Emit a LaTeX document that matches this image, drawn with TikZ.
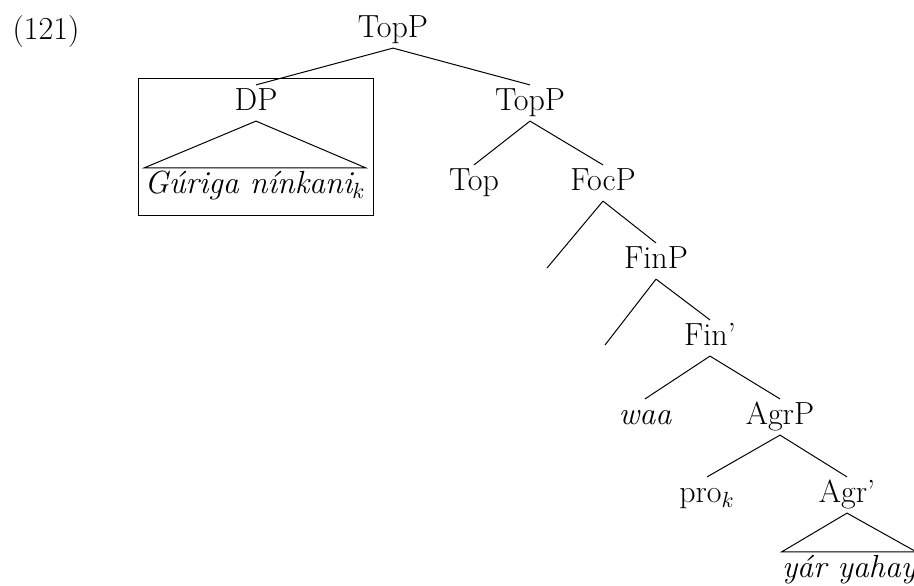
\documentclass[tikz,border=0pt]{standalone}
\usetikzlibrary{positioning}
\begin{document}
\begin{tikzpicture}[x=0.5pt,y=-0.5pt,
  lbl/.style={font=\fontsize{16}{19}\selectfont, text height=11pt, text depth=3.3pt, inner ysep=1.7pt, inner xsep=2pt},
  leaf/.style={lbl, font=\fontsize{16}{19}\selectfont\itshape, inner xsep=0pt},
  branch/.style={line width=0.5pt},
  roof/.style={line width=0.5pt, line join=miter}]
\useasboundingbox (0,0) rectangle (914,585);
\node[lbl] (ex) at (46,32) {(121)};
\node[lbl] (topp) at (393,30) {TopP};
\node[lbl] (dp) at (256,103) {DP};
\node[leaf] (gur) at (255,186) {Gúriga nínkani$_k$};
\node[lbl] (topp2) at (530,103) {TopP};
\node[lbl] (top) at (474,183) {Top};
\node[lbl] (focp) at (603,183) {FocP};
\coordinate (focl) at (547,268);
\node[lbl] (finp) at (656,261) {FinP};
\coordinate (finl) at (605,345);
\node[lbl] (fin) at (710,338) {Fin’};
\node[lbl, font=\fontsize{16}{19}\selectfont\itshape] (waa) at (645,417) {waa};
\node[lbl] (agrp) at (780,417) {AgrP};
\node[lbl] (pro) at (707,495) {pro$_k$};
\node[lbl] (agr) at (847,495) {Agr’};
\node[leaf] (yar) at (849,570) {yár yahay};
\draw[line width=0.5pt] (138,78) rectangle (373,215);
\draw[branch] (topp.south) -- (dp.north);
\draw[branch] (topp.south) -- (topp2.north);
\draw[roof] (dp.south) -- (gur.north west) -- (gur.north east) -- cycle;
\draw[branch] (topp2.south) -- (top.north);
\draw[branch] (topp2.south) -- (focp.north);
\draw[branch] (focp.south) -- (focl);
\draw[branch] (focp.south) -- (finp.north);
\draw[branch] (finp.south) -- (finl);
\draw[branch] (finp.south) -- (fin.north);
\draw[branch] (fin.south) -- (waa.north);
\draw[branch] (fin.south) -- (agrp.north);
\draw[branch] (agrp.south) -- (pro.north);
\draw[branch] (agrp.south) -- (agr.north);
\draw[roof] (agr.south) -- (yar.north west) -- (yar.north east) -- cycle;
\end{tikzpicture}
\end{document}
